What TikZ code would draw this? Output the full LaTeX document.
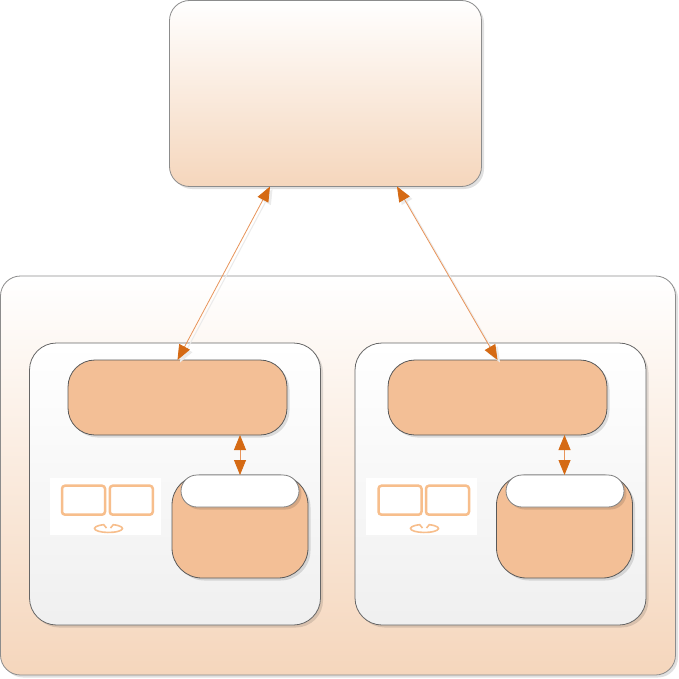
\documentclass[tikz,border=0pt]{standalone}
\usepackage{xcolor}
\usetikzlibrary{arrows.meta, calc, shadows}
\definecolor{peach}{HTML}{F5D6BC}
\definecolor{boxfill}{HTML}{F3BF96}
\definecolor{tipfill}{HTML}{D56A14}
\definecolor{linkline}{HTML}{E8945A}
\definecolor{iconline}{HTML}{F7BE8C}
\tikzset{
  softshadow/.style={drop shadow={shadow xshift=2.5pt, shadow yshift=-2.5pt, fill=black, opacity=.12}},
  peachbox/.style={draw=black!45, line width=.8pt, rounded corners=20pt, top color=white, bottom color=peach, middle color=peach!50, softshadow},
  panelbox/.style={draw=black!60, line width=.8pt, rounded corners=27pt, top color=white, bottom color=black!6, softshadow, minimum width=291pt, minimum height=282pt},
  hostbox/.style={draw=black!65, line width=.8pt, fill=boxfill, rounded corners=27pt, softshadow, minimum width=219pt, minimum height=75pt},
  storebox/.style={draw=black!65, line width=.8pt, fill=boxfill, rounded corners=30pt, softshadow, minimum width=136pt, minimum height=103pt},
  pillbox/.style={draw=black!50, line width=.8pt, fill=white, rounded corners=16pt, softshadow, minimum width=118pt, minimum height=32pt},
  iconbox/.style={fill=white, minimum width=111pt, minimum height=57pt},
  screenbox/.style={draw=iconline, line width=2.5pt, fill=white, rounded corners=3pt, minimum width=43pt, minimum height=29pt},
  iconbase/.style={draw=iconline, line width=1.6pt},
  linkshadow/.style={draw=black!8, line width=1pt, {Triangle[length=15pt,width=12pt]}-{Triangle[length=15pt,width=12pt]}, transform canvas={shift={(2.5pt,-2.5pt)}}},
  link/.style={draw=linkline, line width=.8pt, {Triangle[length=15pt,width=12pt,color=tipfill]}-{Triangle[length=15pt,width=12pt,color=tipfill]}}
}
\begin{document}
\begin{tikzpicture}[x=1pt, y=-1pt, every node/.style={inner sep=0pt, outer sep=0pt}]
  \useasboundingbox (0,0) rectangle (679,679);
  \fill[white] (0,0) rectangle (679,679);
  % Top box
  \node [peachbox, minimum width=312pt, minimum height=186pt] (topbox) at (325.5,93.5) {};
  % Outer box
  \node [peachbox, minimum width=675pt, minimum height=399pt] (outerbox) at (338,475.5) {};
  % Left panel
  \node [panelbox] (panelA) at (175,484) {};
  \node [hostbox] (hostA) at (177.5,397.5) {};
  \node [storebox] (storeA) at (240,526.5) {};
  \node [pillbox] (pillA) at (240,491) {};
  \node [iconbox] (iconA) at (105.5,506.5) {};
  \node [screenbox] (screenAa) at (83.5,500.2) {};
  \node [screenbox] (screenAb) at (131.3,500.2) {};
  \draw [iconbase] (106.5,528) -- (103.7,524.7) arc (250:-70:14 and 4) -- (110.5,528);
  % Right panel
  \node [panelbox] (panelB) at (500.5,484) {};
  \node [hostbox] (hostB) at (497.5,397.5) {};
  \node [storebox] (storeB) at (564.5,526.5) {};
  \node [pillbox] (pillB) at (565,491) {};
  \node [iconbox] (iconB) at (421.5,506.5) {};
  \node [screenbox] (screenBa) at (400,500.2) {};
  \node [screenbox] (screenBb) at (447.5,500.2) {};
  \draw [iconbase] (422.5,528) -- (419.7,524.7) arc (250:-70:14 and 4) -- (426.5,528);
  % Links up to the top box
  \draw [linkshadow] ($(topbox.south)+(-55.5,0)$) -- (hostA.north);
  \draw [linkshadow] ($(topbox.south)+(71.5,0)$) -- (hostB.north);
  \draw [link] ($(topbox.south)+(-55.5,0)$) -- (hostA.north);
  \draw [link] ($(topbox.south)+(71.5,0)$) -- (hostB.north);
  % Links inside the panels
  \draw [link] (hostA.south -| storeA.north) -- (storeA.north);
  \draw [link] (hostB.south -| storeB.north) -- (storeB.north);
\end{tikzpicture}
\end{document}
